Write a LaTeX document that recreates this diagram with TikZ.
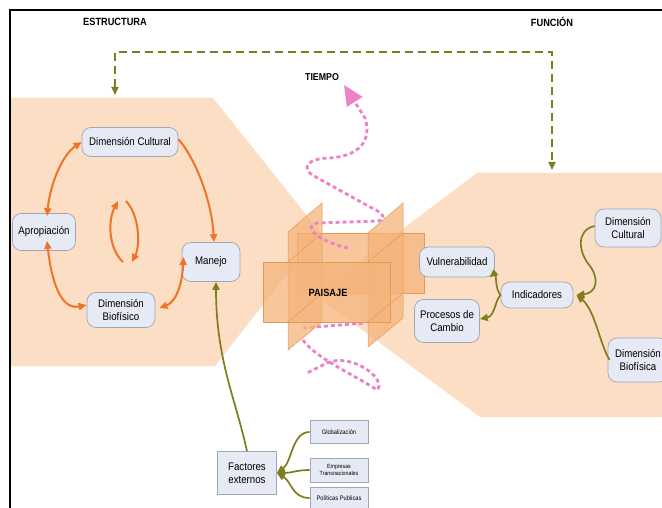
\documentclass[tikz,border=0pt]{standalone}
\usepackage{fontspec}
\setmainfont{Liberation Sans}[FakeStretch=0.88]
\usetikzlibrary{arrows.meta}
\definecolor{peach}{HTML}{FBDEC3}
\definecolor{panelc}{HTML}{F5B47A}
\definecolor{paneledge}{HTML}{E09A5A}
\definecolor{nodefill}{HTML}{E5EAF5}
\definecolor{nodeedge}{HTML}{9FA6B5}
\definecolor{oarrow}{HTML}{EF7428}
\definecolor{olivec}{HTML}{7E7E1E}
\definecolor{pinkc}{HTML}{EE82C6}
\begin{document}
\begin{tikzpicture}[x=1pt,y=-1pt,
  rbox/.style={draw=nodeedge, fill=nodefill, rounded corners=9pt, line width=0.7pt, align=center, inner sep=1pt, font=\fontsize{11}{13}\selectfont},
  sbox/.style={draw=nodeedge, fill=nodefill, line width=0.7pt, align=center, inner sep=1pt},
  oarr/.style={draw=oarrow, line width=2pt, -{Triangle[length=8pt,width=7pt]}},
  oarrb/.style={draw=oarrow, line width=2pt, {Triangle[length=8pt,width=7pt]}-{Triangle[length=8pt,width=7pt]}},
  garr/.style={draw=olivec, line width=1.7pt, -{Triangle[length=8pt,width=7pt]}},
  panel/.style={fill=panelc, fill opacity=0.75, draw=paneledge, line width=0.5pt},
  tdash/.style={draw=pinkc, line width=2.8pt, dash pattern=on 4pt off 3pt},
  ttl/.style={font=\fontsize{10.5}{12}\bfseries\selectfont}
]
\useasboundingbox (0,0) rectangle (662,508);
\clip (0,0) rectangle (662,508);
\fill[white] (0,0) rectangle (662,508);

% background regions
\fill[peach] (11,98) -- (213,98) -- (320,232) -- (215,366) -- (11,366) -- cycle;
\fill[peach] (477,173) -- (670,173) -- (670,417) -- (480,417) -- (315,295) -- cycle;

% frame
\draw[black, line width=2.6pt] (662,10) -- (10,10) -- (10,520);

% titles
\node[ttl] (estr) at (115,22) {ESTRUCTURA};
\node[ttl] (func) at (552,22) {FUNCIÓN};
\node[ttl, font=\fontsize{10}{12}\bfseries\selectfont] (tiempo) at (322,77) {TIEMPO};

% dashed feedback line
\coordinate (dl) at (115,95);
\coordinate (dr) at (552,170);
\draw[draw=olivec, line width=1.8pt, dash pattern=on 8pt off 5pt, {Triangle[length=8pt,width=7pt]}-{Triangle[length=8pt,width=7pt]}] (dl) -- (115,52) -- (552,52) -- (dr);

% lower part of time spiral (behind box)
\draw[tdash] (303,340) .. controls (315,358) and (360,378) .. (377,390) .. controls (388,380) and (352,352) .. (327,363) -- (307,373);
\draw[tdash] (303,328) -- (365,323);

% PAISAJE box
\path[panel] (297,233) rectangle (424,293);
\path[panel] (288,232) -- (322,203) -- (322,322) -- (288,350) -- cycle;
\path[panel] (368,233) -- (403,203) -- (403,318) -- (368,347) -- cycle;
\path[panel] (263,262) rectangle (390,322);
\draw[paneledge, line width=0.5pt] (288,262) -- (322,233) (368,262) -- (403,233) (288,322) -- (322,293) (368,322) -- (403,293);
\node[font=\fontsize{10.5}{12}\bfseries\selectfont] (pais) at (328,293) {PAISAJE};

% upper part of time spiral
\draw[tdash, -{Triangle[length=20pt,width=18pt]}] (348,248) .. controls (320,242) and (300,226) .. (318,223) -- (378,221) .. controls (388,219) and (382,212) .. (370,207) -- (314,176) .. controls (300,168) and (308,158) .. (330,158) .. controls (360,156) and (372,140) .. (365,118) -- (344,85);

% left nodes
\node[rbox, minimum width=96pt, minimum height=29pt] (dcL) at (130,142) {Dimensión Cultural};
\node[rbox, minimum width=63pt, minimum height=37pt] (apro) at (44,232) {Apropiación};
\node[rbox, minimum width=58pt, minimum height=39pt] (manejo) at (211,262) {Manejo};
\node[rbox, minimum width=68pt, minimum height=35pt] (dbL) at (121,310) {Dimensión\\Biofísico};

% right nodes
\node[rbox, minimum width=75pt, minimum height=30pt] (vul) at (457,262) {Vulnerabilidad};
\node[rbox, minimum width=65pt, minimum height=43pt] (proc) at (447,321) {Procesos de\\Cambio};
\node[rbox, minimum width=72pt, minimum height=26pt] (ind) at (537,295) {Indicadores};
\node[rbox, minimum width=66pt, minimum height=38pt] (dcR) at (628,228) {Dimensión\\Cultural};
\node[rbox, minimum width=60pt, minimum height=44pt] (dbR) at (638,360) {Dimensión\\Biofísica};

% external factors
\node[sbox, minimum width=59pt, minimum height=43pt, font=\fontsize{11}{13}\selectfont] (fact) at (247,473) {Factores\\externos};
\node[sbox, minimum width=58pt, minimum height=23pt, font=\fontsize{6.5}{7.5}\selectfont] (glob) at (339,432) {Globalización};
\node[sbox, minimum width=58pt, minimum height=24pt, font=\fontsize{6}{7}\selectfont] (emp) at (339,470) {Empresas\\Transnacionales};
\node[sbox, minimum width=58pt, minimum height=22pt, font=\fontsize{6.5}{7.5}\selectfont] (pol) at (339,498) {Políticas Publicas};

% left cycle arrows
\draw[oarrb] ([xshift=3pt,yshift=-3pt]apro.north) .. controls (50,185) and (62,155) .. (dcL.west);
\draw[oarrb] ([xshift=3pt,yshift=10pt]apro.south) .. controls (52,285) and (62,310) .. ([yshift=5pt]dbL.west);
\draw[oarr] ([yshift=3pt]dcL.east) .. controls (198,162) and (212,205) .. ([xshift=3pt]manejo.north);
\draw[oarrb] ([xshift=2pt,yshift=5pt]manejo.west) .. controls (182,285) and (176,302) .. ([xshift=4pt,yshift=2pt]dbL.east);
\coordinate (c1) at (123,262);
\coordinate (c2) at (118,201);
\coordinate (c3) at (126,201);
\coordinate (c4) at (132,262);
\draw[oarr] (c1) .. controls (108,248) and (108,220) .. (c2);
\draw[oarr] (c3) .. controls (140,216) and (140,246) .. (c4);

% right arrows
\draw[garr] (ind.west) .. controls (495,290) and (496,272) .. ([xshift=-5pt]vul.south east);
\draw[garr] (ind.west) .. controls (495,300) and (495,316) .. ([yshift=2pt]proc.east);
\draw[garr] ([yshift=2pt]dcR.west) .. controls (576,230) and (578,252) .. (590,266) .. controls (600,280) and (596,293) .. ([xshift=3pt]ind.east);
\draw[garr] ([xshift=2pt]dbR.west) .. controls (600,345) and (595,310) .. ([xshift=3pt]ind.east);

% factors arrows
\draw[garr] (glob.west) .. controls (292,432) and (292,462) .. (fact.east);
\draw[garr] (emp.west) .. controls (296,470) and (292,473) .. (fact.east);
\draw[garr] (pol.west) .. controls (292,498) and (292,482) .. (fact.east);
\draw[garr] (fact.north) .. controls (236,400) and (216,360) .. ([xshift=5pt]manejo.south);
\end{tikzpicture}
\end{document}
